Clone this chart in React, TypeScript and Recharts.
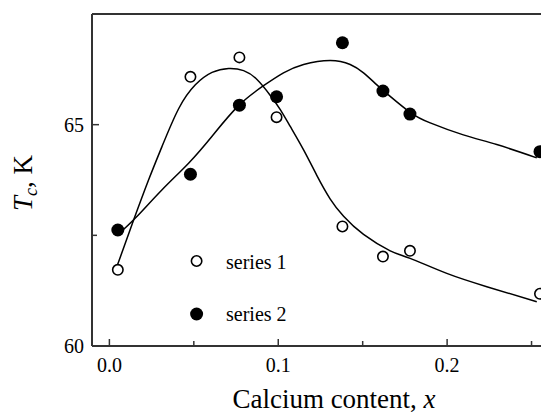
import React from 'react';
import { ComposedChart, Line, Scatter, XAxis, YAxis, ReferenceLine } from 'recharts';

const FONT = '"Liberation Serif", "Times New Roman", serif';
const AXIS = '#333';

// measured points, calcium content x vs Tc (K)
const xs = [0.005, 0.048, 0.077, 0.099, 0.138, 0.162, 0.178, 0.255];
const series1 = [61.72, 66.08, 66.52, 65.17, 62.7, 62.02, 62.15, 61.18];
const series2 = [62.62, 63.88, 65.44, 65.63, 66.85, 65.76, 65.24, 64.39];

// guide-to-the-eye curves
const fit1X = [0.0045, 0.0144, 0.0233, 0.0312, 0.041, 0.0509, 0.0608, 0.0706, 0.0795, 0.0874, 0.0953, 0.1012, 0.1071, 0.115, 0.1229, 0.1308, 0.1387, 0.1505, 0.1663, 0.1781, 0.1998, 0.2235, 0.2531];
const fit1Y = [61.8, 62.85, 63.76, 64.51, 65.36, 65.9, 66.18, 66.27, 66.22, 66.02, 65.66, 65.34, 64.96, 64.43, 63.85, 63.32, 62.93, 62.52, 62.15, 61.98, 61.64, 61.34, 61.0];
const fit2X = [0.0045, 0.0154, 0.0312, 0.0469, 0.0608, 0.0765, 0.0913, 0.1031, 0.115, 0.1308, 0.1426, 0.1505, 0.1584, 0.1663, 0.1781, 0.19, 0.2096, 0.2294, 0.2531];
const fit2Y = [62.5, 62.89, 63.53, 64.13, 64.74, 65.43, 65.88, 66.17, 66.36, 66.45, 66.36, 66.17, 65.9, 65.64, 65.28, 65.04, 64.77, 64.55, 64.25];

const xTicks = [0, 0.05, 0.1, 0.15, 0.2, 0.25];
const xLabels = ['0.0', '', '0.1', '', '0.2', ''];
const yTicks = [60, 62.5, 65];
const yLabels = ['60', '', '65'];

const pts1 = xs.map((x, i) => ({ x, y: series1[i] }));
const pts2 = xs.map((x, i) => ({ x, y: series2[i] }));
const curve1 = fit1X.map((x, i) => ({ x, y: fit1Y[i] }));
const curve2 = fit2X.map((x, i) => ({ x, y: fit2Y[i] }));

const XTick = (props: any) => {
  const { x, y, index } = props;
  const label = xLabels[index];
  return (
    <g>
      <line x1={x} y1={y} x2={x} y2={y - (label ? 7 : 5)} stroke={AXIS} strokeWidth={1.5} />
      {label && (
        <text x={x} y={y + 26} textAnchor="middle" fontFamily={FONT} fontSize={20} fill="#000">
          {label}
        </text>
      )}
    </g>
  );
};

const YTick = (props: any) => {
  const { x, y, index } = props;
  const label = yLabels[index];
  return (
    <g>
      <line x1={x} y1={y} x2={x + (label ? 7 : 5)} y2={y} stroke={AXIS} strokeWidth={1.5} />
      {label && (
        <text x={x - 8} y={y + 7} textAnchor="end" fontFamily={FONT} fontSize={20} fill="#000">
          {label}
        </text>
      )}
    </g>
  );
};

const XLabel = () => (
  <text x={334} y={408} textAnchor="middle" fontFamily={FONT} fontSize={27} fill="#000">
    Calcium content, <tspan fontStyle="italic">x</tspan>
  </text>
);

const YLabel = () => (
  <text
    x={32}
    y={183}
    transform="rotate(-90, 32, 183)"
    textAnchor="middle"
    fontFamily={FONT}
    fontSize={27}
    fill="#000"
  >
    <tspan fontStyle="italic">T</tspan>
    <tspan fontStyle="italic" fontSize={18} dy={5}>c</tspan>
    <tspan dy={-5}>, K</tspan>
  </text>
);

const OpenDot = (p: any) => <circle cx={p.cx} cy={p.cy} r={5.2} fill="#fff" stroke="#000" strokeWidth={1.6} />;
const FilledDot = (p: any) => <circle cx={p.cx} cy={p.cy} r={6.5} fill="#000" />;

export default function App() {
  return (
    <div style={{ position: 'absolute', left: 0, top: 0, width: 541, height: 414, background: '#fff' }}>
      <ComposedChart width={541} height={414} margin={{ top: 14, right: 0, bottom: 0, left: 0 }}>
        <XAxis
          type="number"
          dataKey="x"
          domain={[-0.0103, 0.2556]}
          allowDataOverflow
          ticks={xTicks}
          interval={0}
          tickSize={0}
          tickMargin={0}
          tick={<XTick />}
          tickLine={false}
          axisLine={{ stroke: AXIS, strokeWidth: 2 }}
          height={68}
          label={<XLabel />}
        />
        <YAxis
          type="number"
          dataKey="y"
          domain={[60, 67.5]}
          allowDataOverflow
          ticks={yTicks}
          interval={0}
          tickSize={0}
          tickMargin={0}
          tick={<YTick />}
          tickLine={false}
          axisLine={{ stroke: AXIS, strokeWidth: 2 }}
          width={92}
          label={<YLabel />}
        />
        <ReferenceLine y={67.5} stroke={AXIS} strokeWidth={2} />
        <Line data={curve1} dataKey="y" type="natural" stroke="#000" strokeWidth={1.5} dot={false} isAnimationActive={false} />
        <Line data={curve2} dataKey="y" type="natural" stroke="#000" strokeWidth={1.5} dot={false} isAnimationActive={false} />
        <Scatter data={pts1} dataKey="y" name="series 1" shape={OpenDot} isAnimationActive={false} />
        <Scatter data={pts2} dataKey="y" name="series 2" shape={FilledDot} isAnimationActive={false} />
      </ComposedChart>
      <div style={{ position: 'absolute', left: 185, top: 246 }}>
        <svg width={120} height={90} style={{ position: 'absolute', left: 0, top: 0 }}>
          <circle cx={11.6} cy={15} r={5.2} fill="#fff" stroke="#000" strokeWidth={1.6} />
          <text x={41} y={23} fontFamily={FONT} fontSize={20} fill="#000">series 1</text>
          <circle cx={11.6} cy={68} r={6.5} fill="#000" />
          <text x={41} y={75} fontFamily={FONT} fontSize={20} fill="#000">series 2</text>
        </svg>
      </div>
    </div>
  );
}
